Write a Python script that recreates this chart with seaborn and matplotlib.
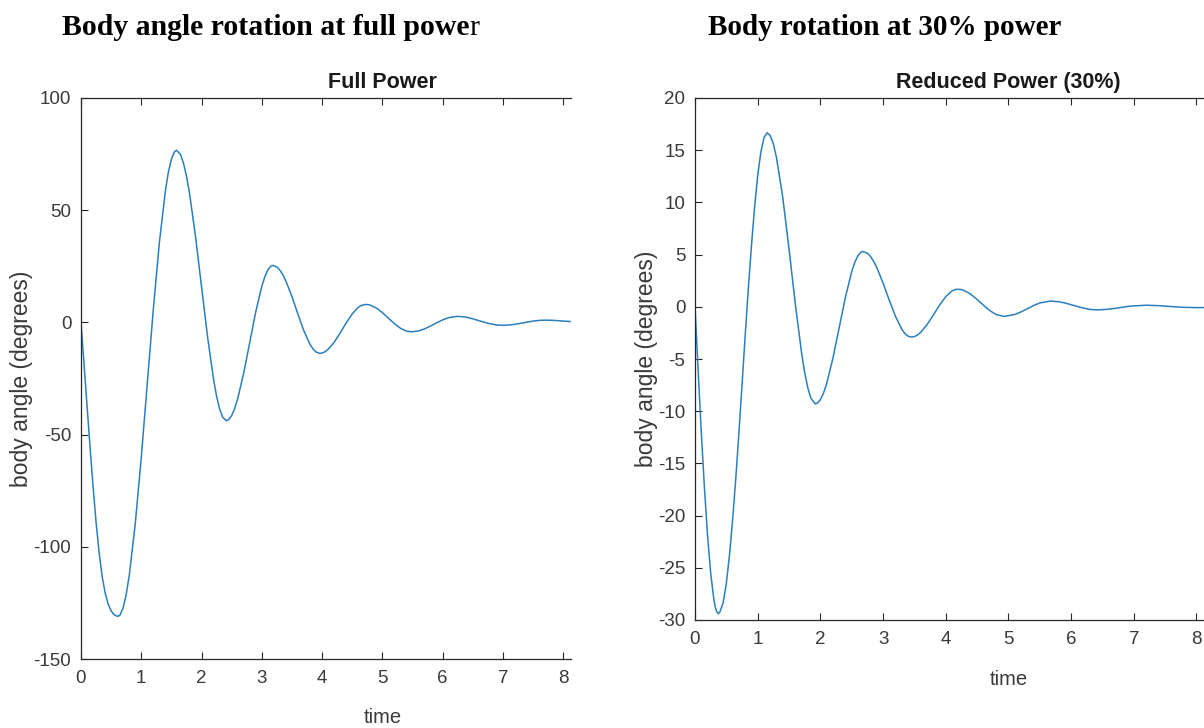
import matplotlib
matplotlib.use("Agg")
import matplotlib.pyplot as plt
import pandas as pd
import seaborn as sns

# ---------------- data ----------------
time_full = [0.00, 0.05, 0.10, 0.15, 0.20, 0.25, 0.30, 0.35, 0.40, 0.45,
             0.50, 0.55, 0.60, 0.615, 0.65, 0.70, 0.75, 0.80, 0.90, 1.00,
             1.10, 1.20, 1.30, 1.40, 1.45, 1.50, 1.55, 1.585, 1.65, 1.70,
             1.75, 1.80, 1.90, 2.00, 2.10, 2.20, 2.25, 2.30, 2.35, 2.41,
             2.45, 2.50, 2.55, 2.60, 2.70, 2.80, 2.90, 3.00, 3.05, 3.10,
             3.15, 3.185, 3.25, 3.30, 3.35, 3.40, 3.50, 3.60, 3.70, 3.80,
             3.85, 3.90, 3.96, 4.00, 4.05, 4.10, 4.20, 4.30, 4.40, 4.50,
             4.60, 4.65, 4.72, 4.77, 4.80, 4.90, 5.00, 5.10, 5.20, 5.30,
             5.40, 5.48, 5.60, 5.70, 5.80, 5.90, 6.00, 6.10, 6.24, 6.30,
             6.40, 6.50, 6.60, 6.70, 6.80, 6.90, 6.99, 7.10, 7.20, 7.30,
             7.40, 7.50, 7.60, 7.70, 7.80, 7.90, 8.00, 8.10, 8.20]
angle_full = [0, -18.5, -37, -55.5, -73, -89, -102.5, -113, -120.5, -125.5,
              -128.6, -130.3, -130.95, -131, -130.3, -127.1, -121.2, -112.9, -89.8, -60.2,
              -27.1, 5.9, 35.5, 58.6, 67.0, 72.8, 76.0, 76.7, 74.9, 71.0,
              65.2, 57.6, 38.3, 15.9, -6.5, -25.5, -33.0, -38.6, -42.2, -43.8,
              -43.35, -41.5, -38.4, -34.0, -22.5, -8.9, 4.8, 16.1, 20.35, 23.4,
              25.05, 25.4, 24.7, 23.3, 21.2, 18.4, 11.5, 3.6, -3.9, -9.8,
              -11.87, -13.2, -13.8, -13.65, -13.05, -12.0, -8.9, -4.7, -0.2, 3.8,
              6.7, 7.55, 8.0, 7.87, 7.7, 6.4, 4.35, 1.9, -0.55, -2.6,
              -3.9, -4.2, -3.8, -2.9, -1.6, -0.2, 1.1, 2.1, 2.7, 2.6,
              2.3, 1.6, 0.8, 0.0, -0.7, -1.16, -1.3, -1.17, -0.84, -0.38,
              0.13, 0.58, 0.89, 1.0, 0.95, 0.8, 0.6, 0.42, 0.3]

time_reduced = [0.00, 0.05, 0.10, 0.15, 0.20, 0.25, 0.30, 0.325, 0.35, 0.374,
                0.40, 0.45, 0.50, 0.55, 0.60, 0.65, 0.70, 0.75, 0.80, 0.85,
                0.90, 0.95, 1.00, 1.05, 1.10, 1.15, 1.20, 1.25, 1.30, 1.40,
                1.50, 1.60, 1.70, 1.75, 1.80, 1.85, 1.92, 1.95, 2.00, 2.05,
                2.10, 2.20, 2.30, 2.40, 2.50, 2.55, 2.60, 2.65, 2.68, 2.75,
                2.80, 2.85, 2.90, 3.00, 3.10, 3.20, 3.30, 3.35, 3.40, 3.45,
                3.50, 3.55, 3.60, 3.70, 3.80, 3.90, 4.00, 4.10, 4.15, 4.19,
                4.25, 4.30, 4.40, 4.50, 4.60, 4.70, 4.80, 4.93, 5.10, 5.20,
                5.30, 5.40, 5.50, 5.67, 5.80, 5.90, 6.00, 6.10, 6.20, 6.30,
                6.42, 6.60, 6.70, 6.80, 6.90, 7.00, 7.20, 7.40, 7.60, 7.80,
                8.00, 8.20]
angle_reduced = [0, -6.1, -12.0, -17.3, -21.9, -25.5, -28.0, -28.8, -29.25, -29.4,
                 -29.2, -28.3, -26.5, -23.8, -20.4, -16.5, -12.1, -7.5, -2.8, 1.7,
                 5.8, 9.5, 12.55, 14.8, 16.2, 16.67, 16.4, 15.6, 14.3, 10.47,
                 5.53, 0.28, -4.41, -6.3, -7.77, -8.78, -9.3, -9.24, -8.9, -8.27,
                 -7.37, -4.93, -2.0, 0.93, 3.37, 4.28, 4.9, 5.24, 5.3, 5.13,
                 4.82, 4.35, 3.76, 2.27, 0.62, -0.94, -2.16, -2.57, -2.82, -2.9,
                 -2.85, -2.7, -2.45, -1.73, -0.8, 0.15, 0.97, 1.52, 1.65, 1.68,
                 1.65, 1.54, 1.2, 0.71, 0.16, -0.35, -0.73, -0.92, -0.74, -0.49,
                 -0.19, 0.12, 0.37, 0.55, 0.49, 0.37, 0.2, 0.03, -0.13, -0.25,
                 -0.3, -0.23, -0.15, -0.06, 0.03, 0.09, 0.15, 0.11, 0.02, -0.05,
                 -0.08, -0.07]

x_ticks = [0, 1, 2, 3, 4, 5, 6, 7, 8]
y_ticks_full = [-150, -100, -50, 0, 50, 100]
y_ticks_reduced = [-30, -25, -20, -15, -10, -5, 0, 5, 10, 15, 20]

heading_full = "Body angle rotation at full powe"
heading_full_tail = "r"
heading_reduced = "Body rotation at 30% power"
title_full = "Full Power"
title_reduced = "Reduced Power (30%)"
x_label = "time"
y_label = "body angle (degrees)"

# ---------------- styling ----------------
sns.set_theme(style="white")
plt.rcParams['font.family'] = ['Liberation Sans', 'DejaVu Sans']

LINE = "#2a7fbf"
AXC = "#262626"
TXT = "#3a3a3a"

W, H = 1204, 728
fig = plt.figure(figsize=(W / 100, H / 100), dpi=100)
fig.patch.set_facecolor("white")

ax1 = fig.add_axes([81 / W, 1 - 659 / H, 490 / W, 561 / H])
ax2 = fig.add_axes([695 / W, 1 - 620 / H, 509 / W, 522 / H])

df_full = pd.DataFrame({"time": time_full, "angle": angle_full})
df_red = pd.DataFrame({"time": time_reduced, "angle": angle_reduced})

sns.lineplot(data=df_full, x="time", y="angle", ax=ax1, color=LINE, linewidth=1.1, sort=False)
sns.lineplot(data=df_red, x="time", y="angle", ax=ax2, color=LINE, linewidth=1.1, sort=False)


def style(ax, ylim, yticks, xmax, title, ylab_x, xlab_y):
    ax.set_xlim(0, xmax)
    ax.set_ylim(*ylim)
    ax.set_xticks(x_ticks)
    ax.set_yticks(yticks)
    ax.set_xticklabels([str(t) for t in x_ticks])
    ax.set_yticklabels([str(t) for t in yticks])
    ax.tick_params(axis="both", direction="in", length=5, width=0.8, color=AXC,
                   labelsize=13.5, labelcolor=TXT, top=True, bottom=True, left=True,
                   right=False)
    ax.tick_params(axis="x", pad=8)
    ax.tick_params(axis="y", pad=7)
    for s in ["left", "bottom", "top"]:
        ax.spines[s].set_visible(True)
        ax.spines[s].set_color(AXC)
        ax.spines[s].set_linewidth(0.9)
    ax.spines["right"].set_visible(False)
    ax.set_facecolor("white")
    ax.grid(False)
    ax.set_title(title, fontsize=15.5, fontweight="bold", color="#1a1a1a",
                 x=5 / xmax, pad=7)
    ax.set_xlabel(x_label, fontsize=14.5, color=TXT)
    ax.xaxis.set_label_coords(5 / xmax, xlab_y)
    ax.set_ylabel(y_label, fontsize=16.5, color=TXT)
    ax.yaxis.set_label_coords(ylab_x, 0.5)


style(ax1, (-150, 100), y_ticks_full, 8.13, title_full, -0.098, -0.088)
style(ax2, (-30, 20), y_ticks_reduced, 8.12, title_reduced, -0.073, -0.095)

# document headings (Times-like serif, bold)
hfont = dict(family=["Liberation Serif", "DejaVu Serif"], color="black")
t1 = fig.text(62 / W, 1 - 35 / H, heading_full, fontweight="bold", va="baseline",
              fontsize=21.4, **hfont)
fig.canvas.draw()
bb = t1.get_window_extent(renderer=fig.canvas.get_renderer())
fig.text(bb.x1 / W, 1 - 35 / H, heading_full_tail, fontweight="normal", va="baseline",
         fontsize=21.4, **hfont)
fig.text(708 / W, 1 - 35 / H, heading_reduced, fontweight="bold", va="baseline",
         fontsize=21, **hfont)

fig.savefig("out.png", dpi=100, facecolor="white")
